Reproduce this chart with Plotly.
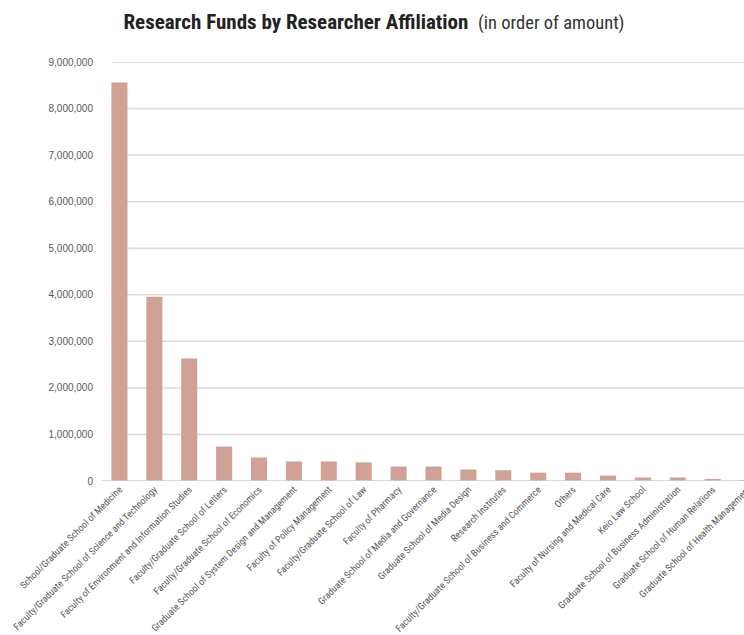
import plotly.graph_objects as go

# Research funds per researcher affiliation, sorted by amount
affiliations = [
    "School/Graduate School of Medicine",
    "Faculty/Graduate School of Science and Technology",
    "Faculty of Environment and Information Studies",
    "Faculty/Graduate School of Letters",
    "Faculty/Graduate School of Economics",
    "Graduate School of System Design and Management",
    "Faculty of Policy Management",
    "Faculty/Graduate School of Law",
    "Faculty of Pharmacy",
    "Graduate School of Media and Governance",
    "Graduate School of Media Design",
    "Research Institutes",
    "Faculty/Graduate School of Business and Commerce",
    "Others",
    "Faculty of Nursing and Medical Care",
    "Keio Law School",
    "Graduate School of Business Administration",
    "Graduate School of Human Relations",
    "Graduate School of Health Management",
]
funds = [
    8560000, 3960000, 2630000, 740000, 505000, 420000, 420000, 400000,
    310000, 310000, 247000, 230000, 180000, 180000, 118000, 75000,
    75000, 30000, 20000,
]
y_ticks = [0, 1000000, 2000000, 3000000, 4000000, 5000000, 6000000,
           7000000, 8000000, 9000000]

BAR_COLOR = "#d2a196"
GRID_COLOR = "#dadada"
TEXT_COLOR = "#595959"
NARROW = ("Roboto Condensed, DejaVu Sans Condensed, Liberation Sans Narrow, "
          "Roboto, Arial, sans-serif")

fig = go.Figure(
    go.Bar(
        x=affiliations,
        y=funds,
        marker=dict(color=BAR_COLOR, line=dict(width=0)),
        hovertemplate="%{x}<br>%{y:,}<extra></extra>",
    )
)

# horizontal gridlines start at the first bar's left edge
half_bar = (1 - 0.54) / 2
for v in y_ticks[1:]:
    fig.add_shape(
        type="line", xref="x", yref="y",
        x0=-half_bar, x1=len(affiliations) - 0.5, y0=v, y1=v,
        line=dict(color=GRID_COLOR, width=1.5), layer="below",
    )
# baseline
fig.add_shape(
    type="line", xref="paper", yref="y",
    x0=0, x1=1, y0=0, y1=0,
    line=dict(color="#cfcfcf", width=1.5), layer="above",
)

fig.update_layout(
    width=765,
    height=635,
    autosize=False,
    margin=dict(l=102, r=0, t=62, b=154),
    paper_bgcolor="white",
    plot_bgcolor="white",
    bargap=0.54,
    showlegend=False,
    title=dict(
        text="<b>Research Funds by Researcher Affiliation</b>  "
             "<span style='font-size:18.5px;color:#333333'>(in order of amount)</span>",
        x=374 / 765,
        xanchor="center",
        y=1 - 22 / 635,
        yanchor="middle",
        font=dict(family=NARROW, size=21, color="#222222"),
    ),
    xaxis=dict(
        type="category",
        range=[-0.5, len(affiliations) - 0.5],
        tickangle=-45,
        tickfont=dict(family=NARROW, size=9.7, color=TEXT_COLOR),
        showgrid=False,
        showline=False,
        ticks="",
        automargin=False,
        fixedrange=True,
    ),
    yaxis=dict(
        range=[0, 9000000],
        tickvals=y_ticks,
        tickformat=",d",
        tickfont=dict(family="Liberation Sans, Arial, sans-serif", size=10,
                      color=TEXT_COLOR),
        showgrid=False,
        zeroline=False,
        showline=False,
        ticks="",
        ticklabelstandoff=8,
        automargin=False,
        fixedrange=True,
    ),
)

fig.write_html("out.html")
